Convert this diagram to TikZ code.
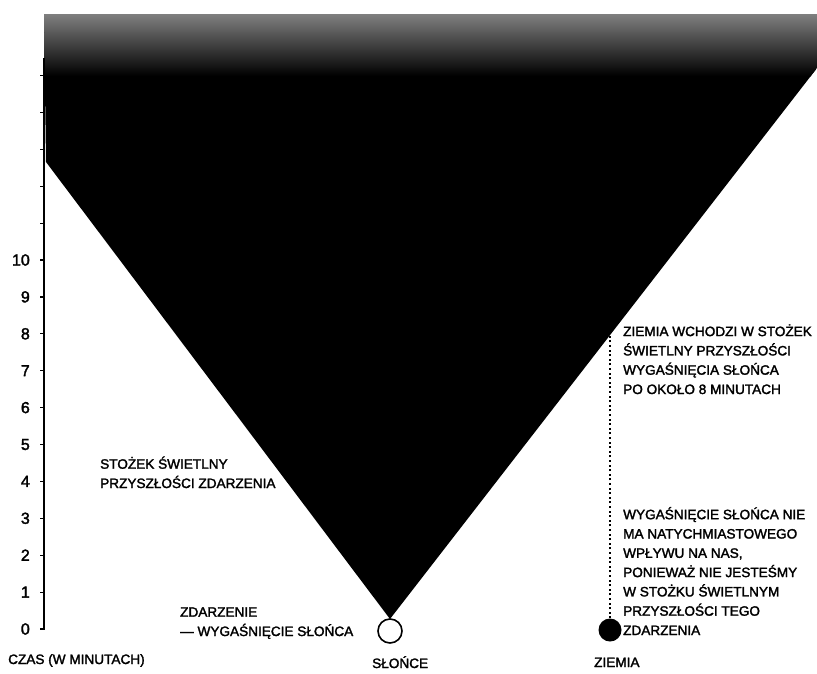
\documentclass[tikz,border=0pt]{standalone}
\usepackage{fontspec}
\setmainfont[FakeBold=2]{Liberation Sans}
\usetikzlibrary{positioning,calc}
\definecolor{halftone}{gray}{0.5}
\tikzset{
  conelbl/.style={font=\fontsize{13.6}{19.3}\selectfont,align=left,inner sep=0pt,anchor=base west},
  ticklbl/.style={font=\fontsize{16}{16}\selectfont,inner sep=0pt,anchor=east},
  axisline/.style={line width=2.2pt},
  axistick/.style={line width=1.2pt},
  worldline/.style={line width=1.1pt,dash pattern=on 2pt off 2.6pt},
  sunbody/.style={circle,draw,line width=1.6pt,fill=white,minimum size=24pt,inner sep=0pt},
  earthbody/.style={circle,fill=black,minimum size=23pt,inner sep=0pt}
}
\begin{document}
\begin{tikzpicture}[x=1pt,y=-1pt]
\useasboundingbox (0,0) rectangle (817,673);
% future light cone of the event
\coordinate (apex) at (390,619);
\begin{scope}
  \clip (44,14) -- (817,14) -- (817,68) -- (apex) -- (46,162) -- cycle;
  \fill[black] (0,0) rectangle (817,673);
  \shade[top color=halftone,bottom color=black] (0,14) rectangle (817,76);
\end{scope}
% time axis
\coordinate (axtop) at (44,58);
\coordinate (axbot) at (44,630);
\draw[axisline] (axtop) -- (axbot);
\foreach \t in {0,...,15}{\draw[axistick] (44,629-36.9*\t) -- ++(-4,0);}
\foreach \t in {0,...,10}{\node[ticklbl] (tick\t) at (30,629-36.9*\t) {\t};}
\node[conelbl] (axlbl) at (8,664) {CZAS (W MINUTACH)};
% sun and earth
\node[sunbody] (sun) at (390,631) {};
\node[earthbody] (earth) at (610,630) {};
\coordinate (entry) at (610,330);
\draw[worldline] (earth) -- (entry);
\node[conelbl] (sunlbl) at (372,668) {SŁOŃCE};
\node[conelbl] (earthlbl) at (594,667) {ZIEMIA};
% notes (base = last line)
\node[conelbl] (evlbl) at (180,636) {ZDARZENIE\\— WYGAŚNIĘCIE SŁOŃCA};
\node[conelbl] (conelbl) at (100,488) {STOŻEK ŚWIETLNY\\PRZYSZŁOŚCI ZDARZENIA};
\node[conelbl] (entrylbl) at (623,394) {ZIEMIA WCHODZI W STOŻEK\\ŚWIETLNY PRZYSZŁOŚCI\\WYGAŚNIĘCIA SŁOŃCA\\PO OKOŁO 8 MINUTACH};
\node[conelbl] (nolbl) at (623,635) {WYGAŚNIĘCIE SŁOŃCA NIE\\MA NATYCHMIASTOWEGO\\WPŁYWU NA NAS,\\PONIEWAŻ NIE JESTEŚMY\\W STOŻKU ŚWIETLNYM\\PRZYSZŁOŚCI TEGO\\ZDARZENIA};
\end{tikzpicture}
\end{document}
